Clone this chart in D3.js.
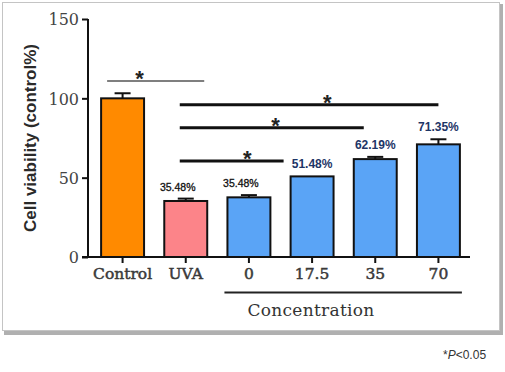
<!DOCTYPE html>
<html>
<head>
<meta charset="utf-8">
<script src="https://cdn.jsdelivr.net/npm/d3@7"></script>
<style>
  html, body { margin: 0; padding: 0; background: #fff; }
  svg { display: block; }
</style>
</head>
<body>
<div id="chart"></div>
<script>
// Cell viability bar chart with error bars and significance brackets.

const categories = ["Control", "UVA", "0", "17.5", "35", "70"];
const means = [100, 35.3, 37.6, 50.8, 61.7, 71.0];
const errors = [3.2, 1.5, 1.4, 0, 1.4, 3.2];
const valueLabels = [null, "35.48%", "35.48%", "51.48%", "62.19%", "71.35%"];
const barColors = ["#ff8a00", "#fc8489", "#5aa4f6", "#5aa4f6", "#5aa4f6", "#5aa4f6"];
const yTicks = [0, 50, 100, 150];
// significance brackets: [from category, to category, y value]
const brackets = [
  ["Control", "UVA", 111],
  ["UVA", "70", 96],
  ["UVA", "35", 81.5],
  ["UVA", "17.5", 60.5]
];

const width = 505, height = 372;
const plot = { left: 88, right: 470, top: 19, bottom: 257 };

const svg = d3.select("#chart").append("svg")
  .attr("width", width)
  .attr("height", height);

// frame with soft shadow
svg.append("rect")
  .attr("x", 4).attr("y", 4).attr("width", 499).attr("height", 331)
  .attr("fill", "#b0b0b0");
svg.append("rect")
  .attr("x", 2.5).attr("y", 2.5).attr("width", 497).attr("height", 328)
  .attr("fill", "#fff").attr("stroke", "#c4c4c4").attr("stroke-width", 1);

const x = d3.scaleBand()
  .domain(categories)
  .range([plot.left + 3, plot.right])
  .paddingInner(0.32)
  .paddingOuter(0.16);

const y = d3.scaleLinear()
  .domain([0, 150])
  .range([plot.bottom, plot.top]);

const bw = x.bandwidth();
const mid = c => x(c) + bw / 2;

const serif = "'DejaVu Serif', 'Liberation Serif', serif";
const sans = "'Liberation Sans', Arial, sans-serif";

// bars
const rows = categories.map((c, i) => ({
  cat: c, mean: means[i], err: errors[i], label: valueLabels[i], color: barColors[i], i
}));

svg.append("g").selectAll("rect")
  .data(rows)
  .join("rect")
  .attr("x", d => x(d.cat))
  .attr("y", d => y(d.mean))
  .attr("width", bw)
  .attr("height", d => y(0) - y(d.mean))
  .attr("fill", d => d.color)
  .attr("stroke", "#111")
  .attr("stroke-width", 2);

// error bars (upper only)
const eb = svg.append("g").selectAll("g")
  .data(rows.filter(d => d.err > 0))
  .join("g");
eb.append("line")
  .attr("x1", d => mid(d.cat))
  .attr("x2", d => mid(d.cat))
  .attr("y1", d => y(d.mean))
  .attr("y2", d => y(d.mean + d.err))
  .attr("stroke", "#111").attr("stroke-width", 2);
eb.append("line")
  .attr("x1", d => mid(d.cat) - 8)
  .attr("x2", d => mid(d.cat) + 8)
  .attr("y1", d => y(d.mean + d.err))
  .attr("y2", d => y(d.mean + d.err))
  .attr("stroke", "#111").attr("stroke-width", 2);

// value labels
svg.append("g").selectAll("text")
  .data(rows.filter(d => d.label))
  .join("text")
  .attr("x", d => mid(d.cat) + (d.i < 3 ? -8 : 0))
  .attr("y", d => y(d.mean + d.err) - 8)
  .attr("text-anchor", "middle")
  .attr("font-family", sans)
  .attr("font-size", d => d.i < 3 ? 10.5 : 12)
  .attr("font-weight", d => d.i < 3 ? "normal" : "bold")
  .attr("fill", d => d.i < 3 ? "#111" : "#1d3566")
  .attr("stroke", d => d.i < 3 ? "#111" : "none")
  .attr("stroke-width", 0.3)
  .text(d => d.label);

// significance brackets: line extents and star positions derived from bar geometry
function bracketGeom(d) {
  const [a, b] = d;
  if (a === "Control") {
    return { x1: x(a) + 6, x2: x(b) + bw - 3, sx: mid(a) + 17, heavy: false };
  }
  const x1 = mid(a) - 6;
  let x2;
  if (b === "70") x2 = mid(b);
  else if (b === "35") x2 = x(b) + 10;
  else x2 = x(b) - 7;
  const frac = b === "70" ? 0.57 : b === "35" ? 0.52 : 0.65;
  return { x1, x2, sx: x1 + frac * (x2 - x1), heavy: true };
}

const bg = svg.append("g").selectAll("g")
  .data(brackets.map(d => ({ d, g: bracketGeom(d) })))
  .join("g");
bg.append("line")
  .attr("x1", o => o.g.x1)
  .attr("x2", o => o.g.x2)
  .attr("y1", o => y(o.d[2]))
  .attr("y2", o => y(o.d[2]))
  .attr("stroke", o => o.g.heavy ? "#111" : "#555")
  .attr("stroke-width", o => o.g.heavy ? 3 : 1.5);
bg.append("text")
  .attr("x", o => o.g.sx)
  .attr("y", o => y(o.d[2]) + 5)
  .attr("text-anchor", "middle")
  .attr("font-family", sans)
  .attr("font-weight", "bold")
  .attr("font-size", 22)
  .attr("fill", "#222")
  .text("*");

// axes
const yAxis = svg.append("g")
  .attr("transform", `translate(${plot.left},0)`)
  .call(d3.axisLeft(y).tickValues(yTicks).tickSize(6).tickPadding(3));
yAxis.select(".domain").attr("stroke", "#111").attr("stroke-width", 2)
  .attr("d", `M0,${plot.top}V${plot.bottom}`);
yAxis.selectAll(".tick line").attr("stroke", "#111").attr("stroke-width", 2);
yAxis.selectAll(".tick text")
  .attr("font-family", serif).attr("font-size", 16).attr("fill", "#444")
  .attr("dy", "0.36em");

const xAxis = svg.append("g")
  .attr("transform", `translate(0,${plot.bottom})`)
  .call(d3.axisBottom(x).tickSize(6).tickPadding(5));
xAxis.select(".domain").attr("stroke", "#111").attr("stroke-width", 2)
  .attr("d", `M${plot.left - 6},0H${plot.right}`);
xAxis.selectAll(".tick line").attr("stroke", "#111").attr("stroke-width", 2);
xAxis.selectAll(".tick text")
  .attr("font-family", serif).attr("font-size", 15.5)
  .attr("fill", "#3a3a3a").attr("stroke", "#3a3a3a").attr("stroke-width", 0.5);

// concentration group
svg.append("line")
  .attr("x1", x("0") - 3).attr("x2", x("70") + bw + 2)
  .attr("y1", 292.5).attr("y2", 292.5)
  .attr("stroke", "#222").attr("stroke-width", 2);
svg.append("text")
  .attr("x", 311)
  .attr("y", 316)
  .attr("text-anchor", "middle")
  .attr("font-family", serif).attr("font-size", 17)
  .attr("letter-spacing", 0.3)
  .attr("fill", "#333")
  .text("Concentration");

// y title
svg.append("text")
  .attr("transform", `translate(36,${(plot.top + plot.bottom) / 2}) rotate(-90)`)
  .attr("text-anchor", "middle")
  .attr("font-family", sans).attr("font-size", 17).attr("font-weight", "bold")
  .attr("fill", "#2a2a2a")
  .text("Cell viability (control%)");

// footnote
const fn = svg.append("text")
  .attr("x", 443).attr("y", 359)
  .attr("font-family", sans).attr("font-size", 12).attr("fill", "#333");
fn.append("tspan").text("*");
fn.append("tspan").attr("font-style", "italic").text("P");
fn.append("tspan").text("<0.05");
</script>
</body>
</html>
